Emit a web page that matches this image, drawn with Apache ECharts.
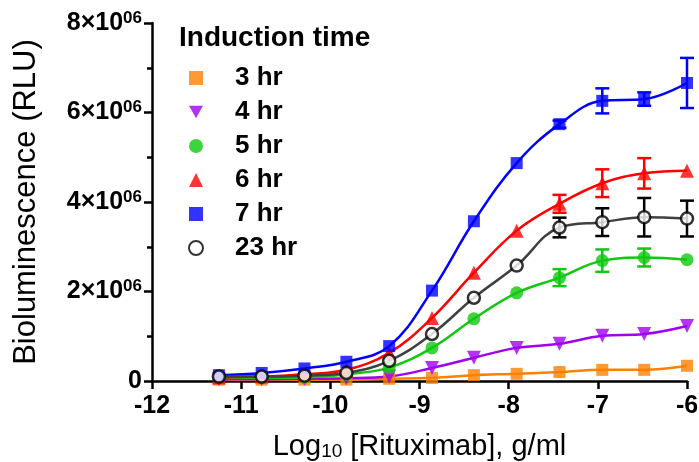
<!DOCTYPE html>
<html>
<head>
<meta charset="utf-8">
<script src="https://cdn.jsdelivr.net/npm/echarts@6/dist/echarts.min.js"></script>
<style>
html,body{margin:0;padding:0;background:#fff;}
#chart{width:699px;height:462px;}
</style>
</head>
<body>
<div id="chart"></div>
<script>
// Log10 [Rituximab] (g/ml), 3-fold dilution series
const logConc = [-11.25, -10.77, -10.29, -9.82, -9.34, -8.86, -8.39, -7.91, -7.43, -6.95, -6.48, -6.00];

const seriesNames = ['3 hr', '4 hr', '5 hr', '6 hr', '7 hr', '23 hr'];

const hr3  = [0.03e6, 0.03e6, 0.03e6, 0.03e6, 0.05e6, 0.07e6, 0.13e6, 0.16e6, 0.20e6, 0.25e6, 0.25e6, 0.34e6];
const hr4  = [0.04e6, 0.04e6, 0.05e6, 0.06e6, 0.10e6, 0.29e6, 0.52e6, 0.74e6, 0.83e6, 1.01e6, 1.05e6, 1.23e6];
const hr5  = [0.07e6, 0.07e6, 0.08e6, 0.15e6, 0.30e6, 0.74e6, 1.39e6, 1.97e6, 2.31e6, 2.69e6, 2.76e6, 2.71e6];
const hr6  = [0.08e6, 0.10e6, 0.15e6, 0.25e6, 0.63e6, 1.41e6, 2.42e6, 3.36e6, 3.96e6, 4.42e6, 4.64e6, 4.70e6];
const hr7  = [0.13e6, 0.18e6, 0.28e6, 0.43e6, 0.78e6, 2.02e6, 3.57e6, 4.87e6, 5.74e6, 6.26e6, 6.30e6, 6.66e6];
const hr23 = [0.10e6, 0.10e6, 0.12e6, 0.18e6, 0.45e6, 1.05e6, 1.86e6, 2.58e6, 3.43e6, 3.55e6, 3.66e6, 3.63e6];

// error bar half-widths (SEM), 0 = not visible
const err3  = [0, 0, 0, 0, 0, 0, 0, 0, 0, 0, 0, 0];
const err4  = [0, 0, 0, 0, 0, 0, 0, 0, 0, 0, 0, 0];
const err5  = [0, 0, 0, 0, 0, 0, 0, 0, 0.19e6, 0.25e6, 0.20e6, 0];
const err6  = [0, 0, 0, 0, 0, 0, 0, 0, 0.20e6, 0.31e6, 0.34e6, 0];
const err7  = [0, 0, 0, 0, 0, 0, 0, 0, 0.08e6, 0.28e6, 0.15e6, 0.56e6];
const err23 = [0, 0, 0, 0, 0, 0, 0, 0, 0.22e6, 0.31e6, 0.43e6, 0.40e6];

const xTicks = [-12, -11, -10, -9, -8, -7, -6];

const FONT = 'Liberation Sans, Arial, sans-serif';
const colors = ['#ff8000', '#a000f0', '#10c810', '#ff0000', '#0000ff', '#000000'];
const lineColors = ['#ff8000', '#a000f0', '#10c810', '#ff0000', '#0000ff', '#404040'];
const symbols = ['rect', 'path://M0,0 L10,0 L5,9 Z', 'circle', 'triangle', 'rect', 'circle'];
const symbolSizes = [12, 14, 13, 14, 12, 13];
const values = [hr3, hr4, hr5, hr6, hr7, hr23];
const errs = [err3, err4, err5, err6, err7, err23];

const series = [];
values.forEach((vals, i) => {
  const pts = logConc.map((x, k) => [x, vals[k]]);
  series.push({
    type: 'line', name: seriesNames[i] + ' fit', data: pts, smooth: 0.4,
    showSymbol: false, silent: true,
    lineStyle: { color: lineColors[i], width: 2.5 }, z: 2 + i
  });
  const ebData = logConc.map((x, k) => [x, vals[k], errs[i][k]]).filter(d => d[2] > 0);
  series.push({
    type: 'custom', name: seriesNames[i] + ' err', data: ebData, z: 3 + i,
    renderItem: function (params, api) {
      const x = api.value(0), y = api.value(1), e = api.value(2);
      const top = api.coord([x, y + e]);
      const bot = api.coord([x, y - e]);
      const hw = 7;
      const st = { stroke: colors[i], lineWidth: 2.5 };
      return {
        type: 'group', children: [
          { type: 'line', shape: { x1: top[0], y1: top[1], x2: bot[0], y2: bot[1] }, style: st },
          { type: 'line', shape: { x1: top[0] - hw, y1: top[1], x2: top[0] + hw, y2: top[1] }, style: st },
          { type: 'line', shape: { x1: bot[0] - hw, y1: bot[1], x2: bot[0] + hw, y2: bot[1] }, style: st }
        ]
      };
    }
  });
  const open = i === 5;
  series.push({
    type: 'scatter', name: seriesNames[i], data: pts,
    symbol: symbols[i], symbolSize: open ? 12 : symbolSizes[i],
    itemStyle: open ? { color: '#ffffff', borderColor: '#000000', borderWidth: 2.5 } : { color: colors[i] },
    z: 10 + i
  });
});

const chart = echarts.init(document.getElementById('chart'), null, { renderer: 'canvas' });
chart.setOption({
  animation: false,
  backgroundColor: '#ffffff',
  textStyle: { fontFamily: FONT },
  title: {
    text: 'Induction time', left: 174, top: 19,
    textStyle: { fontFamily: FONT, fontSize: 28, fontWeight: 'bold', color: '#000' }
  },
  legend: {
    data: seriesNames.map((n, i) => ({ name: n, icon: symbols[i] })),
    orient: 'vertical', left: 183, top: 60,
    itemWidth: 14, itemHeight: 14, itemGap: 8, selectedMode: false,
    textStyle: { fontFamily: FONT, fontSize: 26, fontWeight: 'bold', color: '#000', lineHeight: 26, padding: [0, 0, 0, 27] }
  },
  grid: { left: 152, right: 12, top: 23, bottom: 81, containLabel: false, outerBoundsMode: 'none' },
  xAxis: {
    type: 'value', min: xTicks[0], max: xTicks[xTicks.length - 1], interval: 1,
    axisLine: { onZero: false, lineStyle: { color: '#000', width: 2.5 } },
    axisTick: { length: 8, lineStyle: { color: '#000', width: 2.5 } },
    splitLine: { show: false },
    axisLabel: { fontFamily: FONT, fontSize: 25, fontWeight: 'bold', color: '#000', margin: 13 },
    name: '{a|Log}{s|10}{a| [Rituximab], g/ml}',
    nameLocation: 'middle', nameGap: 47,
    nameTextStyle: {
      rich: {
        a: { fontFamily: FONT, fontSize: 29, color: '#000', lineHeight: 32, verticalAlign: 'bottom' },
        s: { fontFamily: FONT, fontSize: 19, color: '#000', padding: [14, 0, 0, 0], verticalAlign: 'bottom' }
      }
    }
  },
  yAxis: {
    type: 'value', min: 0, max: 8e6, interval: 2e6,
    axisLine: { show: true, lineStyle: { color: '#000', width: 2.5 } },
    axisTick: { show: true, length: 8, lineStyle: { color: '#000', width: 2.5 } },
    minorTick: { show: true, splitNumber: 2, length: 5, lineStyle: { color: '#000', width: 2.5 } },
    splitLine: { show: false },
    axisLabel: {
      margin: 10,
      formatter: function (v) {
        if (v === 0) return '{m|0}';
        return '{m|' + (v / 1e6) + '×10}{s|06}';
      },
      rich: {
        m: { fontFamily: FONT, fontSize: 25, fontWeight: 'bold', color: '#000', lineHeight: 26 },
        s: { fontFamily: FONT, fontSize: 17, fontWeight: 'bold', color: '#000', lineHeight: 26, padding: [0, 0, 10, 0] }
      }
    },
    name: 'Bioluminescence (RLU)', nameLocation: 'middle', nameGap: 110, nameRotate: 90,
    nameTextStyle: { fontFamily: FONT, fontSize: 31, color: '#000' }
  },
  series: series
});
</script>
</body>
</html>
